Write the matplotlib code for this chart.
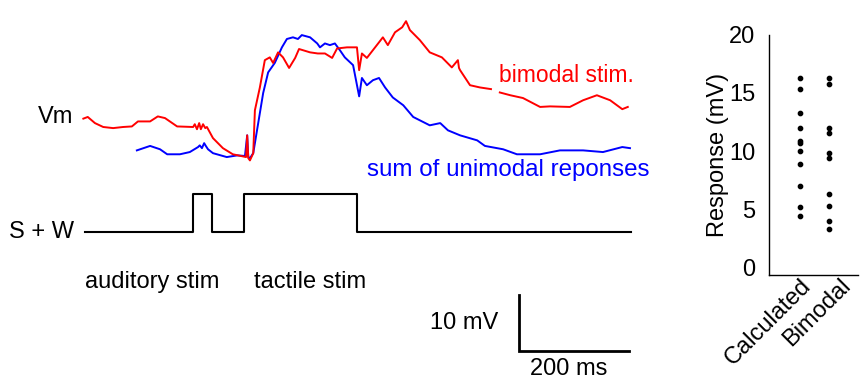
import numpy as np
import matplotlib
matplotlib.use("Agg")
import matplotlib.pyplot as plt
from matplotlib.transforms import ScaledTranslation

plt.rcParams['font.family'] = ['Liberation Sans', 'DejaVu Sans']

# ---------------- data ----------------
# bimodal stimulation trace (time ms, Vm mV relative)
red_t = [-3, 5, 18, 33, 51, 69, 85, 96, 118, 132, 145, 167, 196, 199, 203, 207, 210, 214, 218, 221,
         232, 250, 268, 292, 294, 296, 299, 305, 308, 317, 326, 335, 341, 350, 359, 370, 381, 388,
         408, 422, 435, 448, 457, 475, 493, 497, 502, 511, 522, 533, 540, 549, 562, 575, 582, 589,
         607, 625, 647, 665, 676, 678, 680, 698, 716, 736, 744, 752, 771, 794, 825, 843, 879, 903,
         928, 952, 974, 984]
red_v = [7.1, 7.4, 6.3, 5.6, 5.4, 5.6, 5.7, 6.6, 6.6, 7.5, 7.2, 5.7, 5.6, 6.1, 5.2, 6.3, 5.2, 6.1, 5.4, 5.6,
         3.6, 1.8, 0.7, 0.2, 4.1, 0.0, -0.4, 0.9, 8.6, 12.7, 17.6, 18.1, 17.1, 19.0, 18.1, 16.2, 18.0, 19.6,
         19.0, 18.8, 18.8, 18.0, 19.7, 19.9, 19.9, 15.8, 18.8, 18.0, 19.4, 20.8, 21.7, 20.3, 22.6, 23.5, 24.6, 23.0,
         21.2, 19.0, 18.1, 16.3, 17.6, 16.2, 15.8, 13.1, 12.7, 12.4, np.nan, 11.8, 11.3, 10.8, 9.2, 9.3, 9.2, 10.4,
         11.3, 10.4, 8.8, 9.2]

# sum of unimodal responses trace
blue_t = [94, 118, 136, 149, 172, 190, 205, 208, 212, 216, 219, 223, 232, 257, 276, 290, 294, 296, 299,
          305, 314, 323, 332, 344, 357, 366, 377, 386, 393, 408, 421, 426, 435, 444, 453, 462, 471, 486,
          497, 502, 511, 522, 533, 544, 558, 577, 595, 607, 625, 644, 658, 680, 711, 725, 758, 783, 825,
          861, 903, 939, 974, 988]
blue_v = [1.4, 2.2, 1.6, 0.7, 0.7, 1.1, 2.0, 2.3, 1.8, 2.7, 2.2, 1.6, 0.9, 0.2, 0.5, 0.4, 4.1, 0.2, 0.0,
          0.9, 6.3, 11.7, 15.4, 17.1, 19.9, 21.4, 21.7, 21.4, 22.1, 21.7, 20.6, 19.9, 20.6, 20.3, 20.6, 19.4, 18.1, 16.7,
          11.1, 14.4, 13.1, 14.0, 14.4, 12.7, 10.9, 9.5, 7.4, 6.8, 5.9, 6.3, 5.0, 4.1, 3.2, 2.2, 1.6, 0.7, 0.7,
          1.4, 1.4, 1.1, 2.0, 1.8]

# stimulus (S + W) timing, ms, and on/off state
stim_t = [0, 196, 231, 289, 493, 990]
stim_state = [0, 1, 0, 1, 0, 0]

# right panel: response amplitudes (mV)
categories = ["Calculated", "Bimodal"]
calculated = [16.3, 15.3, 13.25, 12.03, 10.85, 10.68, 10.03, 8.89, 7.01, 5.19, 4.47]
bimodal = [16.3, 15.79, 12.03, 11.6, 9.89, 9.43, 6.3, 5.32, 4.04, 3.31]
yticks = [0, 5, 10, 15, 20]

# ---------------- figure ----------------
W, H = 866, 391
fig = plt.figure(figsize=(W / 100, H / 100), dpi=100)

# left panel: traces in ms / mV, no axes
axL = fig.add_axes([0, 0, 660 / W, 1])
axL.set_xlim(-154.1, 1042.4)
axL.set_ylim(-41.8, 28.4)
axL.axis('off')

axL.plot(blue_t, blue_v, color='#0000ff', lw=1.4, solid_joinstyle='round')
axL.plot(red_t, red_v, color='#ff0000', lw=1.4, solid_joinstyle='round')

stim_base, stim_height = -13.3, 6.8
sv = [stim_base + s * stim_height for s in stim_state]
axL.step(stim_t, sv, where='post', color='black', lw=1.5)

fs = 17
axL.text(-22, 7.4, "Vm", ha='right', va='center', fontsize=fs)
axL.text(-20, -13.3, "S + W", ha='right', va='center', fontsize=fs)
axL.text(0, -22.2, "auditory stim", ha='left', va='center', fontsize=fs)
axL.text(306, -22.2, "tactile stim", ha='left', va='center', fontsize=fs)
axL.text(750, 14.9, "bimodal stim.", ha='left', va='center', fontsize=16.5, color='#ff0000')
axL.text(511, -2.2, "sum of unimodal reponses", ha='left', va='center', fontsize=17.4, color='#0000ff')

# scale bars: 10 mV, 200 ms
sb_x, sb_y = 787, -34.6
axL.plot([sb_x, sb_x, sb_x + 200], [sb_y + 10, sb_y, sb_y], color='black', lw=2, solid_joinstyle='miter')
axL.text(sb_x - 37, sb_y + 5, "10 mV", ha='right', va='center', fontsize=fs)
axL.text(sb_x + 89, sb_y - 3.2, "200 ms", ha='center', va='center', fontsize=fs)

# right panel
axR = fig.add_axes([769 / W, (H - 275) / H, 89 / W, 240.5 / H])
axR.plot(np.zeros(len(calculated)), calculated, 'o', color='black', ms=3.1)
axR.plot(np.ones(len(bimodal)), bimodal, 'o', color='black', ms=3.1)
axR.set_xlim(-1.07, 2.0)
axR.set_ylim(-0.6, 20)
axR.set_yticks(yticks)
axR.set_yticklabels([str(v) for v in yticks], fontsize=fs)
axR.tick_params(axis='y', length=0, pad=10)
axR.set_xticks([0, 1])
axR.set_xticklabels(categories, fontsize=fs, rotation=45, ha='right', va='top', rotation_mode='anchor')
axR.tick_params(axis='x', length=0, pad=1)
offsets = [(0, 2), (11, 2)]
for lab, (dx, dy) in zip(axR.get_xticklabels(), offsets):
    lab.set_transform(lab.get_transform() + ScaledTranslation(dx / 100, dy / 100, fig.dpi_scale_trans))
axR.spines['top'].set_visible(False)
axR.spines['right'].set_visible(False)
axR.spines['left'].set_linewidth(1.0)
axR.spines['bottom'].set_linewidth(1.0)
axR.set_ylabel("Response (mV)", fontsize=fs, labelpad=0)
axR.patch.set_alpha(0)

fig.savefig("out.png", dpi=100)
